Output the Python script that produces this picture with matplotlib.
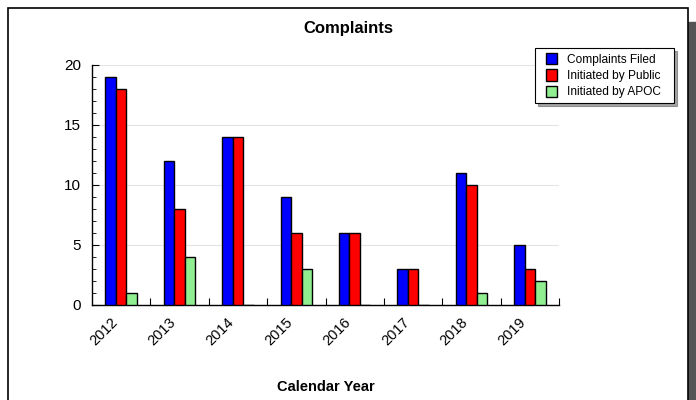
import matplotlib
matplotlib.use("Agg")
import matplotlib.pyplot as plt
from matplotlib.patches import Rectangle
from matplotlib.legend_handler import HandlerPatch
from matplotlib.ticker import MultipleLocator
from matplotlib.transforms import offset_copy
import numpy as np

years = ["2012", "2013", "2014", "2015", "2016", "2017", "2018", "2019"]
filed = [19, 12, 14, 9, 6, 3, 11, 5]
by_public = [18, 8, 14, 6, 6, 3, 10, 3]
by_apoc = [1, 4, 0, 3, 0, 0, 1, 2]

plt.rcParams["font.family"] = ["Liberation Sans", "DejaVu Sans"]

W, H = 696, 400
fig = plt.figure(figsize=(W / 100, H / 100), dpi=100)

# outer frame with a grey drop shadow on the right (kept behind the axes)
fig.patches.append(Rectangle((688 / W, 0), 8 / W, (H - 22) / H,
                             transform=fig.transFigure, color="#555555", zorder=-2))
fig.patches.append(Rectangle((8 / W, -0.05), 680 / W, (H - 8) / H + 0.05,
                             transform=fig.transFigure, facecolor="white",
                             edgecolor="black", lw=1.2, zorder=-1))

ax = fig.add_axes([92 / W, 1 - 305 / H, (559 - 92) / W, (305 - 65) / H])
ax.set_facecolor("none")

x = np.arange(len(years))
bw = 0.18
series = [(filed, "#0000ff", "Complaints Filed"),
          (by_public, "#ff0000", "Initiated by Public"),
          (by_apoc, "#90ee90", "Initiated by APOC")]
handles, labels = [], []
for i, (vals, col, lab) in enumerate(series):
    bars = ax.bar(x + (i - 1) * bw, vals, bw, color=col, edgecolor="black",
                  lw=1, zorder=3)
    handles.append(bars.patches[0])
    labels.append(lab)

ax.set_xlim(-0.5, len(years) - 0.5)
ax.set_ylim(0, 20)
ax.yaxis.set_major_locator(MultipleLocator(5))
ax.yaxis.set_minor_locator(MultipleLocator(1))
ax.grid(axis="y", color="#e4e4e4", lw=0.8, zorder=0)

ax.set_xticks(x + 0.5, minor=False)
ax.set_xticklabels([])
ax.set_xticks(x, minor=True)
ax.tick_params(axis="x", which="minor", length=0, pad=6)
ax.tick_params(axis="x", which="major", direction="in", length=5)
ax.tick_params(axis="y", which="major", direction="in", length=5,
               labelsize=11, pad=8)
ax.tick_params(axis="y", which="minor", direction="in", length=3)
ax.set_xticklabels(years, minor=True, rotation=45, ha="right",
                   rotation_mode="anchor", fontsize=10.5)
# nudge the rotated year labels so they end left of the group centre
for lbl in ax.get_xticklabels(minor=True):
    lbl.set_transform(offset_copy(lbl.get_transform(), fig=fig, x=-11, y=-2,
                                  units="dots"))

for s in ["top", "right"]:
    ax.spines[s].set_visible(False)
ax.spines["left"].set_linewidth(1)
ax.spines["bottom"].set_linewidth(1)

ax.set_xlabel("Calendar Year", fontweight="bold", fontsize=10.5, labelpad=23)
fig.text(348 / W, 1 - 28 / H, "Complaints", ha="center", va="center",
         fontweight="bold", fontsize=12)


def square_right(legend, orig_handle, xdescent, ydescent, width, height, fontsize):
    # square swatch pushed to the right edge of the handle box
    return Rectangle((-xdescent + width - height, -ydescent), height, height)


leg = ax.legend(handles, labels, loc="upper left",
                bbox_to_anchor=(535 / W, 1 - 48 / H, 139 / W, 0),
                bbox_transform=fig.transFigure, borderaxespad=0, mode="expand",
                fontsize=8.6, frameon=True,
                fancybox=False, shadow=True, edgecolor="black",
                handlelength=1.47, handleheight=1.1, borderpad=0.4,
                labelspacing=0.3, handletextpad=0.8,
                handler_map={Rectangle: HandlerPatch(patch_func=square_right)})
leg.get_frame().set_linewidth(0.8)

fig.savefig("out.png", dpi=100)
